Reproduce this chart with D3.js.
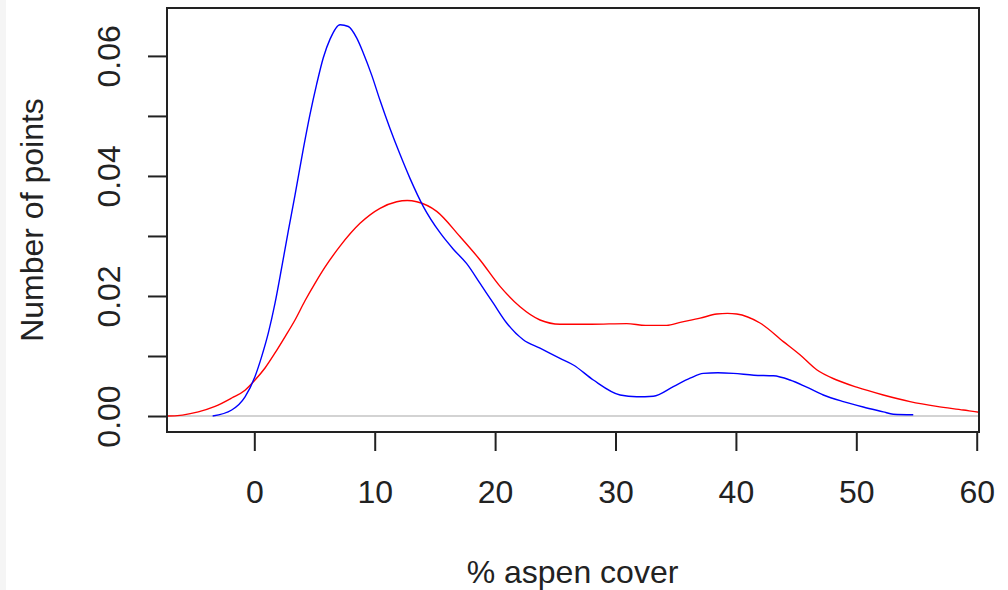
<!DOCTYPE html>
<html>
<head>
<meta charset="utf-8">
<script src="https://cdn.jsdelivr.net/npm/d3@7"></script>
<style>
  html, body { margin: 0; padding: 0; background: #ffffff; }
  svg { display: block; }
  text { font-family: "Liberation Sans", Arial, sans-serif; fill: #222; }
</style>
</head>
<body>
<svg id="chart" width="1008" height="590"></svg>
<script>
// Kernel density estimates of aspen cover (%), two groups
const blueX = [-3.46, -1.88, -0.77, 0.06, 0.61, 1.16, 1.72, 2.28, 2.82, 3.38, 4.07, 4.63, 5.18, 5.73, 6.29, 7.12, 7.81, 8.50, 9.05, 9.75, 10.44, 11.27, 12.10, 12.93, 14.04, 15.44, 16.53, 17.64, 18.75, 19.85, 20.96, 22.34, 23.73, 25.39, 26.50, 28.16, 30.38, 31.76, 33.14, 34.80, 36.19, 37.29, 38.50, 39.78, 41.50, 43.11, 44.49, 45.88, 47.26, 48.92, 50.58, 52.24, 53.07, 54.73];
const blueY = [0.0000, 0.0010, 0.0032, 0.0066, 0.0099, 0.0138, 0.0188, 0.0248, 0.0308, 0.0368, 0.0445, 0.0503, 0.0553, 0.0597, 0.0628, 0.0652, 0.0649, 0.0630, 0.0605, 0.0568, 0.0526, 0.0479, 0.0436, 0.0396, 0.0349, 0.0305, 0.0278, 0.0254, 0.0221, 0.0188, 0.0155, 0.0127, 0.0113, 0.0096, 0.0085, 0.0060, 0.0035, 0.0032, 0.0033, 0.0049, 0.0063, 0.0071, 0.0072, 0.0071, 0.0068, 0.0067, 0.0060, 0.0048, 0.0035, 0.0024, 0.0015, 0.0007, 0.0003, 0.0002];

const redX = [-8.0, -7.21, -4.65, -3.26, -1.88, -0.77, 0.06, 0.89, 1.72, 2.55, 3.38, 4.21, 5.04, 5.87, 7.12, 8.78, 10.44, 11.83, 12.70, 13.49, 15.15, 17.08, 18.75, 20.41, 22.07, 23.73, 25.39, 28.00, 30.93, 32.50, 34.25, 35.37, 37.03, 38.41, 39.30, 40.07, 42.00, 43.94, 45.32, 46.71, 48.37, 50.03, 52.24, 54.46, 56.68, 58.89, 60.27, 61.0];
const redY = [0.0000, 0.0000, 0.0007, 0.0016, 0.0030, 0.0043, 0.0060, 0.0080, 0.0105, 0.0132, 0.0160, 0.0192, 0.0221, 0.0248, 0.0283, 0.0321, 0.0346, 0.0357, 0.0359, 0.0357, 0.0341, 0.0299, 0.0260, 0.0216, 0.0182, 0.0160, 0.0153, 0.0153, 0.0154, 0.0151, 0.0151, 0.0156, 0.0163, 0.0170, 0.0171, 0.0170, 0.0155, 0.0124, 0.0102, 0.0077, 0.0060, 0.0048, 0.0035, 0.0024, 0.0016, 0.0010, 0.0006, 0.0005];

const xTicks = [0, 10, 20, 30, 40, 50, 60];
const yTicks = [0, 0.01, 0.02, 0.03, 0.04, 0.05, 0.06];
const yTickLabels = ["0.00", "", "0.02", "", "0.04", "", "0.06"];

const xTitle = "% aspen cover";
const yTitle = "Number of points";

const box = { left: 167, right: 979, top: 8, bottom: 432 };

const x = d3.scaleLinear().domain([-7.21, 60.19]).range([box.left + 0.5, box.right]);
const y = d3.scaleLinear().domain([-0.00278, 0.0679]).range([box.bottom + 0.7, box.top + 0.5]);

const svg = d3.select("#chart");

// faint strip on the far left edge
svg.append("rect").attr("x", 0).attr("y", 0).attr("width", 6).attr("height", 590)
  .attr("fill", "#f5f5f5");

svg.append("defs").append("clipPath").attr("id", "plotClip")
  .append("rect")
  .attr("x", box.left).attr("y", box.top)
  .attr("width", box.right - box.left).attr("height", box.bottom - box.top);

const plot = svg.append("g").attr("clip-path", "url(#plotClip)");

// zero reference line
plot.append("line")
  .attr("x1", box.left).attr("x2", box.right)
  .attr("y1", y(0)).attr("y2", y(0))
  .attr("stroke", "#c4c4c4").attr("stroke-width", 1.5);

const line = d3.line()
  .x(d => x(d[0]))
  .y(d => y(d[1]))
  .curve(d3.curveMonotoneX);

plot.append("path")
  .datum(redX.map((v, i) => [v, redY[i]]))
  .attr("d", line)
  .attr("fill", "none").attr("stroke", "#ff0000").attr("stroke-width", 1.4);

plot.append("path")
  .datum(blueX.map((v, i) => [v, blueY[i]]))
  .attr("d", line)
  .attr("fill", "none").attr("stroke", "#0000ff").attr("stroke-width", 1.4);

// x axis
const gx = svg.append("g")
  .attr("transform", `translate(0,${box.bottom})`)
  .call(d3.axisBottom(x).tickValues(xTicks).tickSize(19).tickPadding(0).tickFormat(d3.format("d")));
gx.select(".domain").remove();
gx.selectAll(".tick line").attr("stroke", "#222").attr("stroke-width", 2);
gx.selectAll(".tick text")
  .attr("y", 71).attr("dy", null)
  .attr("font-size", 32).attr("fill", "#222")
  .attr("font-family", "Liberation Sans, Arial, sans-serif");

// y axis
const gy = svg.append("g")
  .attr("transform", `translate(${box.left},0)`)
  .call(d3.axisLeft(y).tickValues(yTicks).tickSize(19).tickFormat((d, i) => yTickLabels[i]));
gy.select(".domain").remove();
gy.selectAll(".tick line").attr("stroke", "#222").attr("stroke-width", 2);
gy.selectAll(".tick text")
  .attr("x", 0).attr("y", -47).attr("dy", null)
  .attr("transform", "rotate(-90)")
  .attr("text-anchor", "middle")
  .attr("font-size", 32).attr("fill", "#222")
  .attr("font-family", "Liberation Sans, Arial, sans-serif");

// plot frame
svg.append("rect")
  .attr("x", box.left).attr("y", box.top)
  .attr("width", box.right - box.left).attr("height", box.bottom - box.top)
  .attr("fill", "none").attr("stroke", "#222").attr("stroke-width", 2);

// axis titles
svg.append("text")
  .attr("x", (box.left + box.right) / 2 - 0.5).attr("y", 583)
  .attr("text-anchor", "middle").attr("font-size", 32)
  .text(xTitle);

svg.append("text")
  .attr("transform", `translate(43,${(box.top + box.bottom) / 2}) rotate(-90)`)
  .attr("text-anchor", "middle").attr("font-size", 32)
  .text(yTitle);
</script>
</body>
</html>
